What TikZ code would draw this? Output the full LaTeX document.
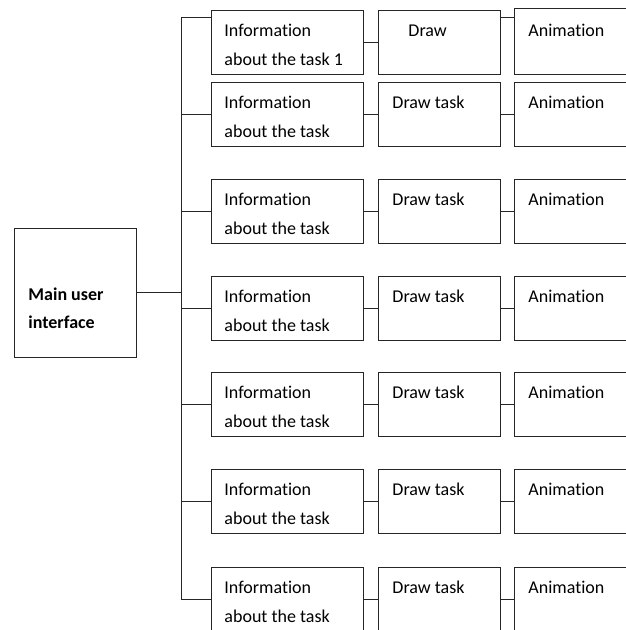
\documentclass[tikz,border=0pt]{standalone}
\usepackage{fontspec}
\setmainfont{Carlito}[Ligatures=NoCommon]
\usetikzlibrary{calc}
\begin{document}
\begin{tikzpicture}[x=1pt,y=-1pt,line width=0.9pt,
  box/.style={draw=black!85,rectangle,inner sep=0pt,outer sep=0pt,anchor=north west},
  infobox/.style={box,minimum width=152,minimum height=64},
  drawbox/.style={box,minimum width=122,minimum height=64},
  animbox/.style={box,minimum width=130,minimum height=64},
  txt/.style={inner sep=0pt,anchor=base west,align=left,font=\fontsize{18}{29}\selectfont,text=black},
  conn/.style={draw=black!85}]
\clip (0,0) rectangle (626,630);
\fill[white] (0,0) rectangle (626,630);
% main box
\node[box,minimum width=122,minimum height=129] (m) at (14,228) {};
\node[txt,font=\fontsize{18}{28}\selectfont\bfseries] (mt) at (28,328) {Main user\\interface};
% row 1
\node[infobox] (i1) at (211,10) {};
\node[drawbox] (d1) at (378,10) {};
\node[animbox,minimum height=66] (a1) at (514,8) {};
\node[txt] (i1t) at ($(i1.north west)+(13,55)$) {Information\\about the task 1};
\node[txt] (d1t) at ($(d1.north west)+(30,26)$) {Draw};
\node[txt] (a1t) at ($(a1.north west)+(14,28)$) {Animation};
% rows 2..7
\foreach \r/\top in {2/82,3/179,4/276,5/372,6/469,7/567}{
  \node[infobox] (i\r) at (211,\top) {};
  \node[drawbox] (d\r) at (378,\top) {};
  \node[animbox] (a\r) at (514,\top) {};
  \node[txt] (i\r t) at ($(i\r.north west)+(13,55)$) {Information\\about the task};
  \node[txt] (d\r t) at ($(d\r.north west)+(14,26)$) {Draw task};
  \node[txt] (a\r t) at ($(a\r.north west)+(14,26)$) {Animation};
}
% trunk
\coordinate (t1) at (181,17);
\coordinate (tb) at (181,599);
\draw[conn] (t1) -- (tb);
\draw[conn] (t1) -- (t1 -| i1.west);
\foreach \r in {2,...,7}{\draw[conn] (i\r.west -| t1) -- (i\r.west);}
\draw[conn] (m.east) -- (m.east -| t1);
\foreach \r in {1,...,7}{\draw[conn] (i\r.east) -- (d\r.west);}
\draw[conn] (d1.east |- t1) -- (a1.west |- t1);
\foreach \r in {2,...,7}{\draw[conn] (d\r.east) -- (a\r.west);}
\end{tikzpicture}
\end{document}
